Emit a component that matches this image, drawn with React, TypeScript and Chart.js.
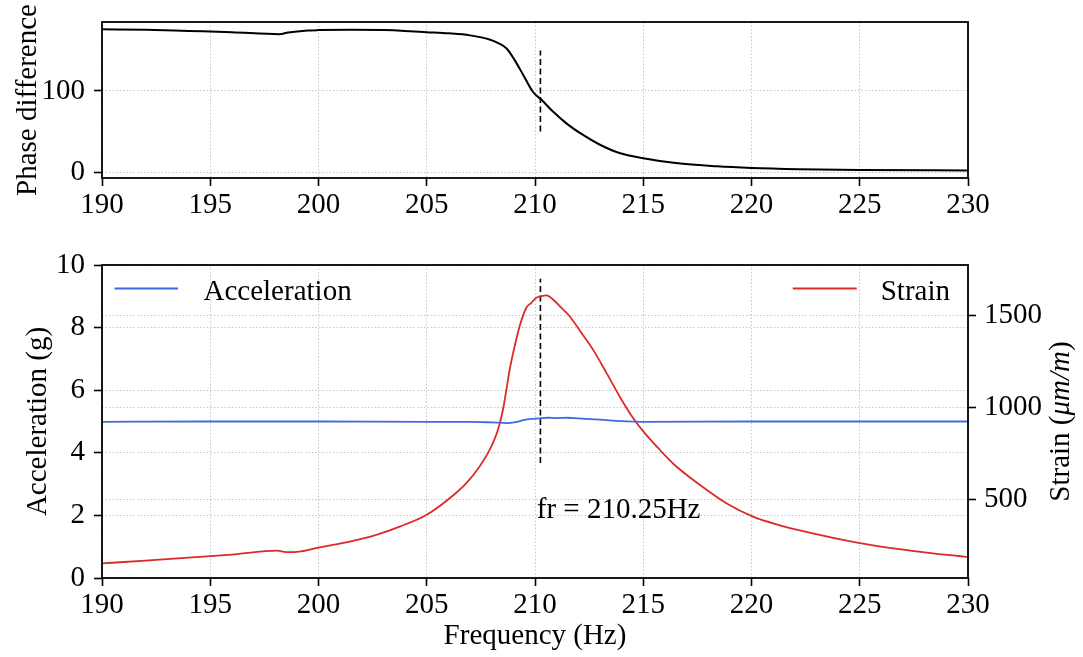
import React, { useEffect, useRef } from 'react';
import { Chart, registerables } from 'chart.js';

Chart.register(...registerables);

// ---------- data ----------
const phaseFreq = [190, 192, 194, 196, 198.2, 198.6, 199.5, 200, 201.5, 203, 204, 205, 206, 207, 207.9, 208.3, 208.7, 209.06, 209.45, 209.9, 210.3, 210.83, 211.45, 212.2, 213, 213.9, 215, 216.5, 218.4, 220, 222.2, 225, 230];
const phaseDeg = [176, 175.5, 174, 172.5, 170, 172, 174.5, 175, 175.5, 175, 174, 172.5, 171, 168.5, 163.5, 159, 152, 138, 120, 99, 89, 74.5, 60, 46, 33.6, 23.4, 17, 11, 7, 5, 3.5, 2.5, 2];

const strainFreq = [190, 192, 194, 196, 198.1, 198.5, 199.2, 200, 201.44, 202.67, 203.75, 204.98, 206.06, 206.83, 207.44, 207.91, 208.29, 208.52, 208.68, 208.83, 209.06, 209.29, 209.6, 209.83, 210.06, 210.3, 210.53, 210.83, 211.14, 211.6, 212.14, 212.68, 213.3, 213.91, 214.53, 215.07, 215.76, 216.53, 217.61, 218.84, 220.07, 221.31, 222.23, 225, 227.5, 230];
const strainVals = [155, 170, 186, 203, 224, 216, 221, 241, 273, 310, 355, 418, 509, 591, 681, 772, 880, 989, 1098, 1207, 1333, 1442, 1542, 1569, 1596, 1605, 1609, 1587, 1551, 1496, 1406, 1315, 1189, 1061, 944, 862, 772, 681, 582, 482, 409, 362, 334, 265, 222, 189];

const accelFreq = [190, 195, 200, 205, 207, 208, 208.7, 209.1, 209.5, 210, 210.3, 210.6, 211, 211.5, 212, 213, 214, 215, 220, 225, 230];
const accelVals = [4.99, 5.0, 5.0, 4.99, 4.99, 4.97, 4.95, 4.98, 5.05, 5.09, 5.11, 5.12, 5.11, 5.12, 5.1, 5.06, 5.01, 4.99, 5.0, 5.0, 5.0];

const resonanceFreq = 210.25;
const phaseMarkerRange = [50, 150];
const strainMarkerRange = [700, 1700];

const phaseTicks = [0, 100];
const strainTicks = [500, 1000, 1500];

const annotationText = 'fr = 210.25Hz';
const annotationX = 210.08;
const annotationY = 1.92;

const legendLabels = ['Acceleration', 'Strain'];

// ---------- styles ----------
const FONT = "'Liberation Serif', 'Times New Roman', serif";
const FS = 29;
const BLUE = '#4169e1';
const RED = '#dc2a2a';
const GRID = '#b8b8b8';

const toPts = (xs: number[], ys: number[]) => xs.map((x, i) => ({ x, y: ys[i] }));

const boxPlugin = {
  id: 'box',
  afterDraw(chart: any) {
    const { ctx, chartArea } = chart;
    const { left, top, right, bottom } = chartArea;
    ctx.save();
    ctx.strokeStyle = '#000';
    ctx.lineWidth = 1.8;
    ctx.strokeRect(left, top, right - left, bottom - top);
    ctx.restore();
  },
};

const gridCommon = {
  color: GRID,
  lineWidth: 0.8,
  tickColor: '#000',
  tickLength: 8,
  tickWidth: 1.6,
  tickBorderDash: [],
};
const borderCommon = { display: false, dash: [1.5, 2] };
const plainLabel = (v: any) => String(v);
const fixY = (w: number) => (s: any) => {
  s.width = w;
  s.paddingTop = 0;
  s.paddingBottom = 0;
};

export default function App() {
  const topRef = useRef<HTMLCanvasElement>(null);
  const botRef = useRef<HTMLCanvasElement>(null);

  useEffect(() => {
    Chart.defaults.font.family = FONT;
    Chart.defaults.color = '#000';

    const xScale = (height: number, showTitle: boolean) => ({
      type: 'linear',
      min: 190,
      max: 230,
      afterFit: (s: any) => { s.height = height; },
      ticks: { stepSize: 5, font: { size: FS }, padding: 2, maxRotation: 0, autoSkip: false, color: '#000', callback: plainLabel },
      grid: gridCommon,
      border: borderCommon,
      title: showTitle
        ? { display: true, text: 'Frequency (Hz)', font: { size: FS }, color: '#000', padding: { top: 0, bottom: 3 } }
        : { display: false },
    });

    const top = new Chart(topRef.current!, {
      type: 'line',
      data: {
        datasets: [
          {
            data: toPts(phaseFreq, phaseDeg),
            borderColor: '#000',
            borderWidth: 2,
            pointRadius: 0,
            cubicInterpolationMode: 'monotone',
          },
          {
            data: toPts([resonanceFreq, resonanceFreq], phaseMarkerRange),
            borderColor: '#000',
            borderWidth: 1.6,
            borderDash: [6, 3.5],
            pointRadius: 0,
          },
        ],
      },
      options: {
        animation: false,
        responsive: true,
        maintainAspectRatio: false,
        layout: { padding: { left: 0, right: 115, top: 22, bottom: 12 } },
        plugins: { legend: { display: false }, tooltip: { enabled: false } },
        scales: {
          x: xScale(50, false) as any,
          y: {
            type: 'linear',
            min: -7.4,
            max: 185,
            afterFit: fixY(102),
            afterBuildTicks: (s: any) => { s.ticks = phaseTicks.map((v) => ({ value: v })); },
            ticks: { font: { size: FS }, padding: 9, color: '#000', callback: plainLabel },
            grid: gridCommon,
            border: borderCommon,
            title: { display: true, text: 'Phase difference', font: { size: FS }, color: '#000', padding: { top: 11, bottom: 0 } },
          },
        },
      },
      plugins: [boxPlugin],
    } as any);

    const annotPlugin = {
      id: 'annot',
      afterDraw(chart: any) {
        const { ctx, chartArea, scales } = chart;
        const { left, top, right } = chartArea;
        ctx.save();
        ctx.font = `${FS}px ${FONT}`;
        ctx.fillStyle = '#000';
        ctx.textBaseline = 'alphabetic';
        // legend: Acceleration (left)
        const ly = top + 23.5;
        const by = top + 35;
        ctx.lineWidth = 1.8;
        ctx.strokeStyle = BLUE;
        ctx.beginPath();
        ctx.moveTo(left + 12.5, ly);
        ctx.lineTo(left + 76, ly);
        ctx.stroke();
        ctx.textAlign = 'left';
        ctx.fillText(legendLabels[0], left + 101.5, by);
        // legend: Strain (right)
        const w = ctx.measureText(legendLabels[1]).width;
        const tx = right - 18 - w;
        ctx.strokeStyle = RED;
        ctx.beginPath();
        ctx.moveTo(tx - 24 - 64, ly);
        ctx.lineTo(tx - 24, ly);
        ctx.stroke();
        ctx.fillText(legendLabels[1], tx, by);
        // annotation text
        const ax = scales.x.getPixelForValue(annotationX);
        const ay = scales.y.getPixelForValue(annotationY);
        ctx.fillText(annotationText, ax, ay);
        // right axis title, reading bottom to top
        const parts: [string, string][] = [
          ['Strain (', `${FS}px ${FONT}`],
          ['\u03bcm/m', `italic ${FS}px ${FONT}`],
          [')', `${FS}px ${FONT}`],
        ];
        let total = 0;
        const widths = parts.map(([t, f]) => { ctx.font = f; const ww = ctx.measureText(t).width; total += ww; return ww; });
        const cy = (chartArea.top + chartArea.bottom) / 2;
        ctx.translate(1061, cy);
        ctx.rotate(-Math.PI / 2);
        ctx.textBaseline = 'middle';
        let px = -total / 2;
        parts.forEach(([t, f], i) => { ctx.font = f; ctx.fillText(t, px, 0); px += widths[i]; });
        ctx.restore();
      },
    };

    const bot = new Chart(botRef.current!, {
      type: 'line',
      data: {
        datasets: [
          {
            label: legendLabels[0],
            data: toPts(accelFreq, accelVals),
            borderColor: BLUE,
            borderWidth: 1.8,
            pointRadius: 0,
            cubicInterpolationMode: 'monotone',
            yAxisID: 'y',
          },
          {
            label: legendLabels[1],
            data: toPts(strainFreq, strainVals),
            borderColor: RED,
            borderWidth: 1.8,
            pointRadius: 0,
            cubicInterpolationMode: 'monotone',
            yAxisID: 'y2',
          },
          {
            data: toPts([resonanceFreq, resonanceFreq], strainMarkerRange),
            borderColor: '#000',
            borderWidth: 1.6,
            borderDash: [6, 3.5],
            pointRadius: 0,
            yAxisID: 'y2',
          },
        ],
      },
      options: {
        animation: false,
        responsive: true,
        maintainAspectRatio: false,
        layout: { padding: { left: 0, right: 0, top: 25, bottom: 0 } },
        plugins: { legend: { display: false }, tooltip: { enabled: false } },
        scales: {
          x: xScale(79, true) as any,
          y: {
            type: 'linear',
            position: 'left',
            min: 0,
            max: 10,
            afterFit: fixY(102),
            ticks: { stepSize: 2, font: { size: FS }, padding: 9, color: '#000', callback: plainLabel },
            grid: gridCommon,
            border: borderCommon,
            title: { display: true, text: 'Acceleration (g)', font: { size: FS }, color: '#000', padding: { top: 21, bottom: 0 } },
          },
          y2: {
            type: 'linear',
            position: 'right',
            min: 76,
            max: 1774,
            afterFit: fixY(115),
            afterBuildTicks: (s: any) => { s.ticks = strainTicks.map((v) => ({ value: v })); },
            ticks: { font: { size: FS }, padding: 8, color: '#000', callback: plainLabel },
            grid: gridCommon,
            border: borderCommon,
          },
        },
      },
      plugins: [boxPlugin, annotPlugin],
    } as any);

    return () => {
      top.destroy();
      bot.destroy();
    };
  }, []);

  return (
    <div style={{ position: 'absolute', left: 0, top: 0, width: 1083, height: 657, background: '#fff' }}>
      <div style={{ position: 'absolute', left: 0, top: 0, width: 1083, height: 240 }}>
        <canvas ref={topRef} />
      </div>
      <div style={{ position: 'absolute', left: 0, top: 240, width: 1083, height: 417 }}>
        <canvas ref={botRef} />
      </div>
    </div>
  );
}
